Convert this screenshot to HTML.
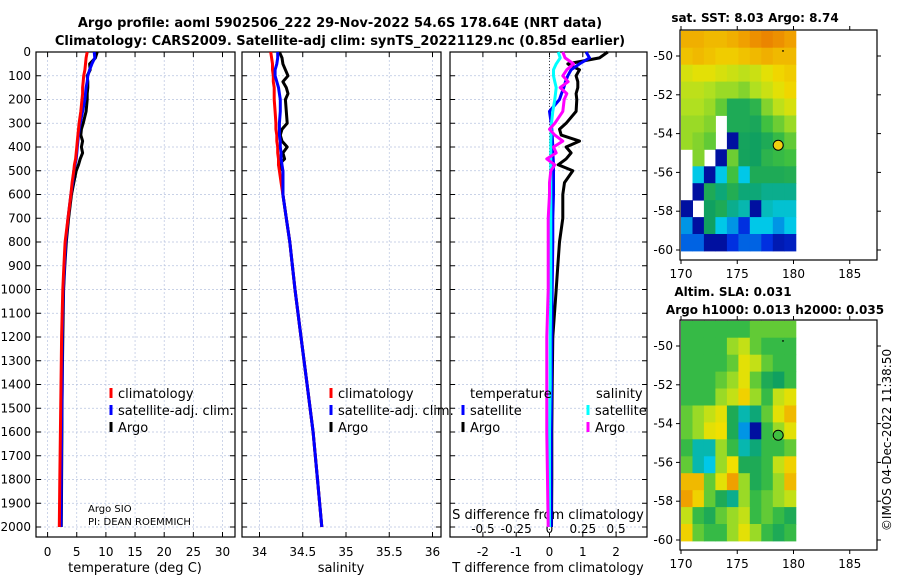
<!DOCTYPE html>
<html><head><meta charset="utf-8">
<style>
body{margin:0;background:#fff;}
svg{display:block;font-family:"DejaVu Sans","Liberation Sans",sans-serif;}
</style></head>
<body>
<svg id="fig" width="900" height="580" viewBox="0 0 900 580" xmlns="http://www.w3.org/2000/svg">
<text x="340" y="27" text-anchor="middle" font-size="13" font-weight="bold">Argo profile: aoml 5902506_222 29-Nov-2022 54.6S 178.64E (NRT data)</text>
<text x="340" y="45" text-anchor="middle" font-size="13" font-weight="bold">Climatology: CARS2009. Satellite-adj clim: synTS_20221129.nc (0.85d earlier)</text>
<text x="755" y="22" text-anchor="middle" font-size="12" font-weight="bold">sat. SST: 8.03 Argo: 8.74</text>
<text x="733" y="296" text-anchor="middle" font-size="12" font-weight="bold">Altim. SLA: 0.031</text>
<text x="775" y="314" text-anchor="middle" font-size="12" font-weight="bold">Argo h1000: 0.013 h2000: 0.035</text>
<text transform="translate(891,440) rotate(-90)" text-anchor="middle" font-size="12">©IMOS 04-Dec-2022 11:38:50</text>
<g id="layer"></g>
</svg>
<script>
// ---- data ----
const depths = [0,25,50,75,100,125,150,175,200,250,300,325,350,375,400,425,450,475,500,550,600,700,800,900,1000,1200,1400,1600,1800,2000];
const tempClim = [6.8,6.6,6.5,6.4,6.2,6.1,6.0,6.0,5.9,5.7,5.4,5.3,5.2,5.1,5.0,4.9,4.8,4.6,4.5,4.2,4.0,3.5,3.0,2.8,2.6,2.4,2.3,2.2,2.1,2.0];
const tempSat = [8.0,8.1,7.6,7.2,6.9,6.8,6.6,6.5,6.4,6.0,5.6,5.4,5.3,5.2,5.1,5.0,4.9,4.7,4.5,4.3,4.0,3.5,3.1,2.9,2.7,2.5,2.5,2.4,2.35,2.3];
const tempArgo = [8.5,8.2,7.2,7.3,6.8,6.9,6.9,6.8,6.8,6.6,6.1,5.8,5.7,6.0,5.8,6.0,5.6,5.3,4.9,4.5,4.1,3.6,3.2,2.95,2.75,2.6,2.5,2.45,2.4,2.35];
const salClim = [34.13,34.14,34.15,34.15,34.16,34.16,34.17,34.17,34.17,34.18,34.19,34.19,34.20,34.20,34.21,34.21,34.22,34.22,34.23,34.25,34.27,34.31,34.35,34.38,34.41,34.48,34.55,34.62,34.67,34.72];
const salSat = [34.21,34.21,34.20,34.18,34.18,34.20,34.22,34.23,34.24,34.24,34.23,34.23,34.23,34.24,34.24,34.25,34.25,34.26,34.27,34.27,34.27,34.31,34.35,34.38,34.41,34.48,34.55,34.62,34.67,34.72];
const salArgo = [34.23,34.26,34.27,34.30,34.33,34.27,34.31,34.33,34.30,34.31,34.32,34.26,34.24,34.26,34.32,34.27,34.29,34.22,34.27,34.27,34.27,34.31,34.35,34.38,34.41,34.48,34.55,34.62,34.67,34.72];
const dTempSat = [1.1,1.2,0.9,0.65,0.55,0.48,0.43,0.36,0.3,0.0,0.05,0.07,0.08,0.09,0.1,0.1,0.11,0.12,0.12,0.12,0.12,0.1,0.1,0.09,0.08,0.07,0.06,0.05,0.05,0.05];
const dTempArgo = [1.75,1.5,0.55,0.9,0.8,0.85,0.85,0.8,0.82,0.8,0.5,0.3,0.35,0.9,0.5,0.65,0.5,0.26,0.7,0.45,0.4,0.4,0.3,0.25,0.2,0.1,0.08,0.07,0.07,0.06];
const dSalSat = [0.065,0.08,0.05,0.03,0.03,0.04,0.05,0.045,0.04,0.025,0.015,0.012,0.012,0.01,0.01,0.01,0.01,0.01,0.01,0.01,0.01,0.01,0.01,0.01,0.01,0.005,0.005,0.0,0.0,0.0];
const dSalArgo = [0.1,0.117,0.18,0.13,0.1,0.14,0.08,0.13,0.11,0.1,0.04,0.0,0.04,0.1,0.03,0.05,-0.02,0.04,0.01,0.0,0.0,-0.01,-0.01,-0.01,-0.01,-0.02,-0.02,-0.02,-0.015,-0.01];
const depthTicks = [0,100,200,300,400,500,600,700,800,900,1000,1100,1200,1300,1400,1500,1600,1700,1800,1900,2000];
const tempTicks = [0,5,10,15,20,25,30];
const salTicks = [34,34.5,35,35.5,36];
const salTickLabels = ["34","34.5","35","35.5","36"];
const dTempTicks = [-2,-1,0,1,2];
const dSalTicks = [-0.5,-0.25,0,0.25,0.5];
const dSalTickLabels = ["-0.5","-0.25","0","0.25","0.5"];
const latTicks = [-50,-52,-54,-56,-58,-60];
const lonTicks = [170,175,180,185];
const argoLon = 178.64, argoLat = -54.6;
// map grids: 10 cols (170-180E) x 13 rows (-48.7 to -60), values 0..1, null = no data
const sstGrid = [
[0.82,0.82,0.8,0.8,0.82,0.85,0.88,0.9,0.88,0.85],
[0.78,0.8,0.78,0.76,0.76,0.78,0.8,0.82,0.8,0.8],
[0.68,0.7,0.7,0.68,0.66,0.64,0.66,0.7,0.74,0.76],
[0.64,0.64,0.62,0.6,0.6,0.58,0.62,0.66,0.7,0.74],
[0.62,0.62,0.6,0.55,0.45,0.45,0.48,0.58,0.64,0.68],
[0.6,0.6,0.58,null,0.45,0.45,0.44,0.52,0.56,0.6],
[0.6,0.58,0.55,null,0.05,0.43,0.42,0.45,0.5,0.55],
[null,0.58,null,0.05,0.56,0.43,0.42,0.48,0.5,0.52],
[null,0.3,0.05,0.3,0.52,0.3,0.45,0.45,0.45,0.46],
[null,0.05,0.45,0.4,0.46,0.4,0.4,0.38,0.38,0.38],
[0.05,null,0.42,0.45,0.38,0.35,0.05,0.34,0.32,0.32],
[0.25,0.05,0.42,0.3,0.25,0.15,0.3,0.3,0.25,0.3],
[0.2,0.2,0.05,0.05,0.15,0.2,0.2,0.15,0.08,0.1]];
const slaGrid = [
[0.5,0.5,0.5,0.5,0.5,0.5,0.55,0.55,0.55,0.55],
[0.5,0.5,0.5,0.5,0.6,0.65,0.55,0.5,0.5,0.5],
[0.5,0.5,0.5,0.5,0.55,0.7,0.65,0.55,0.5,0.5],
[0.5,0.5,0.5,0.55,0.6,0.7,0.55,0.45,0.42,0.5],
[0.5,0.5,0.5,0.6,0.65,0.75,0.6,0.5,0.65,0.7],
[0.55,0.6,0.65,0.7,0.45,0.35,0.4,0.55,0.7,0.8],
[0.55,0.6,0.7,0.72,0.45,0.25,0.05,0.5,0.6,0.7],
[0.5,0.35,0.35,0.6,0.5,0.35,0.4,0.5,0.5,0.55],
[0.55,0.35,0.3,0.6,0.72,0.45,0.45,0.5,0.65,0.75],
[0.8,0.8,0.55,0.7,0.85,0.6,0.45,0.5,0.6,0.8],
[0.85,0.75,0.55,0.45,0.38,0.6,0.5,0.55,0.6,0.65],
[0.65,0.5,0.45,0.55,0.6,0.65,0.5,0.55,0.5,0.45],
[0.75,0.55,0.5,0.5,0.6,0.7,0.6,0.5,0.45,0.5]];

// ---- helpers ----
const NS="http://www.w3.org/2000/svg";
const layer=document.getElementById('layer');
function mk(tag,attrs,parent){const e=document.createElementNS(NS,tag);for(const k in attrs)e.setAttribute(k,attrs[k]);(parent||layer).appendChild(e);return e;}
function txt(x,y,s,size,anchor,parent){const t=mk('text',{x:x,y:y,'font-size':size,'text-anchor':anchor||'middle'},parent);t.textContent=s;return t;}

const TOP=52,BOT=537;
const yD=d=>TOP+d*0.2375;
const panels=[
 {name:'temperature-panel',x0:36,x1:235,f:v=>47.6+v*5.83},
 {name:'salinity-panel',x0:242,x1:441,f:v=>259.5+(v-34)*86.5},
 {name:'difference-panel',x0:450,x1:647,f:v=>549.5+v*33.3}];
const sF=v=>549.5+v*133.2;

panels.forEach((p,i)=>{
  const g=mk('g',{});
  
  
  // grid
  depthTicks.forEach(d=>{
    const l=mk('line',{x1:p.x0,x2:p.x1,y1:yD(d),y2:yD(d),stroke:'#b8c4e0','stroke-width':0.7,'stroke-dasharray':'2,2'},g);
    
    
    mk('line',{x1:p.x0,x2:p.x0+5,y1:yD(d),y2:yD(d),stroke:'#000'},g);
    mk('line',{x1:p.x1-5,x2:p.x1,y1:yD(d),y2:yD(d),stroke:'#000'},g);
  });
  const ticks=i==0?tempTicks:i==1?salTicks:dTempTicks;
  ticks.forEach((t,k)=>{
    const x=p.f(t);
    mk('line',{x1:x,x2:x,y1:TOP,y2:BOT,stroke:'#b8c4e0','stroke-width':0.7,'stroke-dasharray':'2,2'},g);
    mk('line',{x1:x,x2:x,y1:BOT-5,y2:BOT,stroke:'#000'},g);
    mk('line',{x1:x,x2:x,y1:TOP,y2:TOP+5,stroke:'#000'},g);
    const lab=i==1?salTickLabels[k]:String(t);
    const tt=txt(x,556,lab,12,'middle',g);
    
    
  });
  const fr=mk('rect',{x:p.x0,y:TOP,width:p.x1-p.x0,height:BOT-TOP,fill:'none',stroke:'#000','stroke-width':1.2},g);
  
  
});
// depth labels
depthTicks.forEach(d=>{
  const t=txt(31,yD(d)+4,String(d),12,'end');
  
  
});
// x labels
[[135,'temperature (deg C)','temperature-axis-title'],[341,'salinity','salinity-axis-title'],[548,'T difference from climatology','t-difference-axis-title']].forEach(a=>{
  const t=txt(a[0],572,a[1],13);
  
  
});
// S diff axis inside panel 3
const sl=txt(548,519,'S difference from climatology',13);


dSalTicks.forEach((t,k)=>{
  const x=sF(t);
  const tt=txt(x,533,dSalTickLabels[k],12);
  
  
});
// zero dotted line panel 3
mk('line',{x1:sF(0),x2:sF(0),y1:TOP,y2:BOT,stroke:'#444','stroke-width':1,'stroke-dasharray':'1,2'});

function series(vals,fx,color,name){
  const pts=vals.map((v,i)=>fx(v).toFixed(1)+','+yD(depths[i]).toFixed(1)).join(' ');
  const l=mk('polyline',{points:pts,fill:'none',stroke:color,'stroke-width':3,'stroke-linejoin':'round'});
  
  
}
series(tempArgo,panels[0].f,'#000','temp-argo-line');
series(tempSat,panels[0].f,'#0000ff','temp-satellite-line');
series(tempClim,panels[0].f,'#ff0000','temp-climatology-line');
series(salArgo,panels[1].f,'#000','sal-argo-line');
series(salClim,panels[1].f,'#ff0000','sal-climatology-line');
series(salSat,panels[1].f,'#0000ff','sal-satellite-line');
series(dTempArgo,panels[2].f,'#000','dtemp-argo-line');
series(dTempSat,panels[2].f,'#0000ff','dtemp-satellite-line');
series(dSalSat,sF,'#00ffff','dsal-satellite-line');
series(dSalArgo,sF,'#ff00ff','dsal-argo-line');

// legends
function legItem(x,y,color,label,name){
  const g=mk('g',{});
  
  
  mk('line',{x1:x,x2:x,y1:y-10,y2:y,stroke:color,'stroke-width':3},g);
  txt(x+7,y,label,13,'start',g);
}
legItem(111,398,'#ff0000','climatology','legend-entry-climatology');
legItem(111,415,'#0000ff','satellite-adj. clim.','legend-entry-satellite');
legItem(111,432,'#000','Argo','legend-entry-argo');
legItem(331,398,'#ff0000','climatology','legend-entry-climatology-2');
legItem(331,415,'#0000ff','satellite-adj. clim.','legend-entry-satellite-2');
legItem(331,432,'#000','Argo','legend-entry-argo-2');
const tl=txt(470,398,'temperature',13,'start');


const sal=txt(596,398,'salinity',13,'start');


legItem(463,415,'#0000ff','satellite','legend-entry-t-satellite');
legItem(463,432,'#000','Argo','legend-entry-t-argo');
legItem(588,415,'#00ffff','satellite','legend-entry-s-satellite');
legItem(588,432,'#ff00ff','Argo','legend-entry-s-argo');
const a1=txt(88,512,'Argo SIO',10,'start');


const a2=txt(88,525,'PI: DEAN ROEMMICH',10,'start');



// ---- maps ----
const stops=[[0,[0,0,128]],[0.15,[0,48,224]],[0.3,[0,200,232]],[0.42,[16,160,96]],[0.52,[64,192,64]],[0.62,[176,224,32]],[0.72,[240,224,0]],[0.85,[240,160,0]],[1,[224,80,0]]];
function cmap(v){for(let i=1;i<stops.length;i++){if(v<=stops[i][0]){const a=stops[i-1],b=stops[i],t=(v-a[0])/(b[0]-a[0]);return 'rgb('+a[1].map((c,k)=>Math.round(c+(b[1][k]-c)*t)).join(',')+')';}}return 'rgb(224,80,0)';}
function drawMap(top,grid,circFill,name){
  const box={x0:680,x1:877,y0:top,y1:top+230};
  const lonX=l=>681+(l-170)*11.25;
  const latY=l=>top+26+(-50-l)*19.4;
  const g=mk('g',{});
  
  
  const rows=grid.length,cols=grid[0].length;
  const gx0=lonX(170),gx1=lonX(180.2),gy0=latY(-48.7),gy1=latY(-60.05);
  const cw=(gx1-gx0)/cols,ch=(gy1-gy0)/rows;
  grid.forEach((row,r)=>row.forEach((v,c)=>{
    if(v===null)return;
    const cell=mk('rect',{x:(gx0+c*cw).toFixed(1),y:(gy0+r*ch).toFixed(1),width:(cw+0.5).toFixed(1),height:(ch+0.5).toFixed(1),fill:cmap(v)},g);
    
    
  }));
  mk('rect',{x:box.x0,y:box.y0,width:box.x1-box.x0,height:box.y1-box.y0,fill:'none',stroke:'#000','stroke-width':1.2},g);
  latTicks.forEach(l=>{
    const y=latY(l);
    mk('line',{x1:box.x0-4,x2:box.x0,y1:y,y2:y,stroke:'#000'},g);
    mk('line',{x1:box.x1,x2:box.x1+4,y1:y,y2:y,stroke:'#000'},g);
    const t=txt(673,y+4,String(l),12,'end',g);
    
    
  });
  lonTicks.forEach(l=>{
    const x=lonX(l);
    mk('line',{x1:x,x2:x,y1:box.y1,y2:box.y1+4,stroke:'#000'},g);
    mk('line',{x1:x,x2:x,y1:box.y0-4,y2:box.y0,stroke:'#000'},g);
    const t=txt(x,box.y1+18,String(l),12,'middle',g);
    
    
  });
  const c=mk('circle',{cx:lonX(argoLon),cy:latY(argoLat),r:5,fill:circFill,stroke:'#000','stroke-width':1},g);
  
  
  mk('rect',{x:lonX(179),y:latY(-49.7),width:1.5,height:1.5,fill:'#000'},g);
}
drawMap(30,sstGrid,'#f0d010','sst-map');
drawMap(320,slaGrid,'#40c040','sla-map');
</script>
</body></html>
